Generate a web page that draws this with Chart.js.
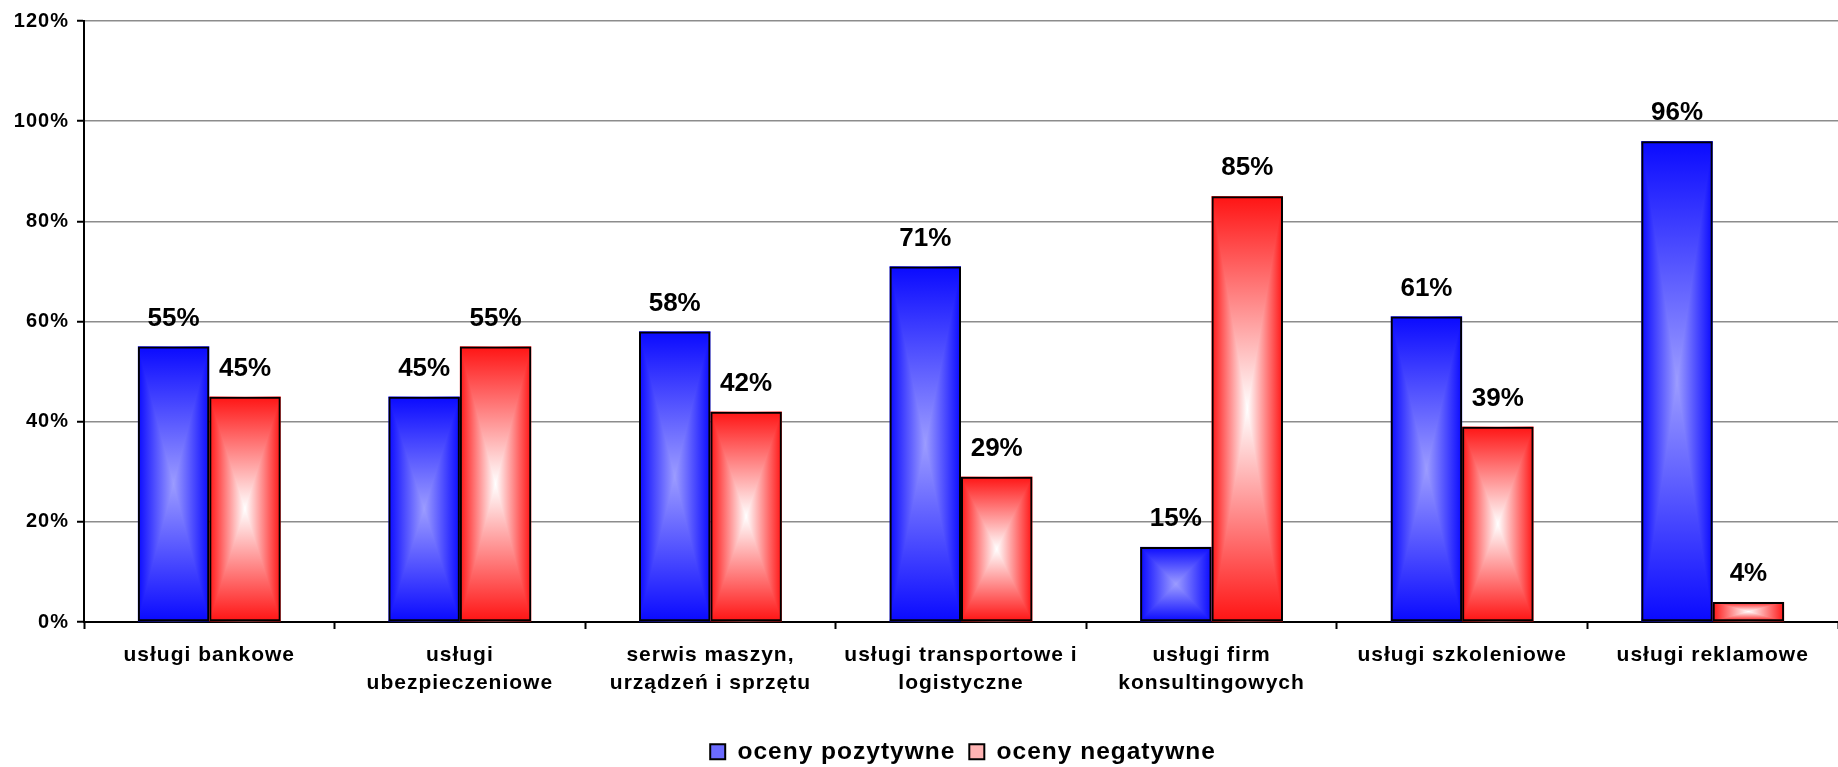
<!DOCTYPE html>
<html>
<head>
<meta charset="utf-8">
<script src="https://cdn.jsdelivr.net/npm/chart.js@4/dist/chart.umd.min.js"></script>
<style>
  html, body { margin: 0; padding: 0; background: #fff; }
  #wrap { width: 1838px; height: 767px; position: relative; }
</style>
</head>
<body>
<div id="wrap"><canvas id="chart"></canvas></div>
<script>
// dane z wykresu
const categories = [
  ['usługi bankowe'],
  ['usługi', 'ubezpieczeniowe'],
  ['serwis maszyn,', 'urządzeń i sprzętu'],
  ['usługi transportowe i', 'logistyczne'],
  ['usługi firm', 'konsultingowych'],
  ['usługi szkoleniowe'],
  ['usługi reklamowe']
];
const seriesNames = ['oceny pozytywne', 'oceny negatywne'];
const positive = [55, 45, 58, 71, 15, 61, 96];
const negative = [45, 55, 42, 29, 85, 39, 4];
const yTicks = [0, 20, 40, 60, 80, 100, 120];

// kolory gradientu: krawędź -> środek
const palette = [
  { edge: '#0a0aff', center: '#9c9cff', legend: '#6b6bff' },
  { edge: '#ff1414', center: '#ffffff', legend: '#ffb4b4' }
];

const FONT = "'Liberation Sans', Arial, sans-serif";

// odstępy między literami jak w Excelu
const spacingPlugin = {
  id: 'spacing',
  beforeLayout(chart) { chart.ctx.letterSpacing = '1px'; },
  beforeDraw(chart) { chart.ctx.letterSpacing = '1px'; }
};

// przesunięcie legendy, żeby stała tam gdzie w oryginale
const legendShift = {
  id: 'legendShift',
  afterLayout(chart) {
    const lg = chart.legend;
    if (!lg) return;
    lg.left += 44;
    lg.right += 44;
    lg.top += 7;
    lg.bottom += 7;
  }
};

// wypełnienie słupków gradientem "od środka" (prostokątnym)
const gradientBars = {
  id: 'gradientBars',
  beforeDatasetsDraw(chart) {
    const ctx = chart.ctx;
    chart.data.datasets.forEach((ds, di) => {
      const meta = chart.getDatasetMeta(di);
      const col = palette[di];
      meta.data.forEach(bar => {
        const p = bar.getProps(['x', 'y', 'base', 'width'], true);
        const l = p.x - p.width / 2, r = p.x + p.width / 2;
        const t = Math.min(p.y, p.base), b = Math.max(p.y, p.base);
        const cx = p.x, cy = (t + b) / 2;
        ctx.save();
        // poziomy gradient na całym prostokącie
        let g = ctx.createLinearGradient(l, 0, r, 0);
        g.addColorStop(0, col.edge);
        g.addColorStop(0.5, col.center);
        g.addColorStop(1, col.edge);
        ctx.fillStyle = g;
        ctx.fillRect(l, t, r - l, b - t);
        // górny trójkąt
        g = ctx.createLinearGradient(0, t, 0, cy);
        g.addColorStop(0, col.edge);
        g.addColorStop(1, col.center);
        ctx.fillStyle = g;
        ctx.beginPath();
        ctx.moveTo(l, t); ctx.lineTo(r, t); ctx.lineTo(cx, cy); ctx.closePath();
        ctx.fill();
        // dolny trójkąt
        g = ctx.createLinearGradient(0, b, 0, cy);
        g.addColorStop(0, col.edge);
        g.addColorStop(1, col.center);
        ctx.fillStyle = g;
        ctx.beginPath();
        ctx.moveTo(l, b); ctx.lineTo(r, b); ctx.lineTo(cx, cy); ctx.closePath();
        ctx.fill();
        ctx.restore();
      });
    });
  }
};

// etykiety wartości nad słupkami
const valueLabels = {
  id: 'valueLabels',
  afterDatasetsDraw(chart) {
    const ctx = chart.ctx;
    ctx.save();
    ctx.letterSpacing = '0px';
    ctx.font = 'bold 26px ' + FONT;
    ctx.fillStyle = '#000';
    ctx.textAlign = 'center';
    ctx.textBaseline = 'middle';
    chart.data.datasets.forEach((ds, di) => {
      chart.getDatasetMeta(di).data.forEach((bar, i) => {
        ctx.fillText(ds.data[i] + '%', bar.x, bar.y - 28);
      });
    });
    ctx.restore();
  }
};

const ctx = document.getElementById('chart');
new Chart(ctx, {
  type: 'bar',
  data: {
    labels: categories,
    datasets: [
      {
        label: seriesNames[0],
        data: positive,
        backgroundColor: 'rgba(0,0,0,0)',
        borderColor: '#000',
        borderWidth: 2,
        borderSkipped: false
      },
      {
        label: seriesNames[1],
        data: negative,
        backgroundColor: 'rgba(0,0,0,0)',
        borderColor: '#000',
        borderWidth: 2,
        borderSkipped: false
      }
    ]
  },
  options: {
    responsive: true,
    maintainAspectRatio: false,
    animation: false,
    devicePixelRatio: 1,
    layout: { padding: { top: 21, right: 0, left: 0, bottom: 0 } },
    datasets: {
      bar: { categoryPercentage: 0.57, barPercentage: 1.0 }
    },
    scales: {
      x: {
        grid: {
          display: true,
          drawOnChartArea: false,
          drawTicks: true,
          tickLength: 7,
          tickColor: '#000',
          tickWidth: 2,
          offset: true
        },
        border: { display: true, color: '#000', width: 2 },
        ticks: {
          color: '#000',
          padding: 12,
          maxRotation: 0,
          autoSkip: false,
          font: { family: FONT, size: 21, weight: 'bold', lineHeight: 1.33 }
        },
        afterFit(scale) { scale.height = 96.5; }
      },
      y: {
        min: 0,
        max: 120,
        afterBuildTicks(scale) { scale.ticks = yTicks.map(v => ({ value: v })); },
        grid: {
          color: '#8c8c8c',
          lineWidth: 1.5,
          tickLength: 7,
          tickColor: '#000',
          tickWidth: 2
        },
        border: { display: true, color: '#000', width: 2 },
        ticks: {
          color: '#000',
          padding: 8,
          callback: v => v + '%',
          font: { family: FONT, size: 20, weight: 'bold' }
        },
        afterFit(scale) { scale.width = 84; }
      }
    },
    plugins: {
      tooltip: { enabled: false },
      legend: {
        position: 'bottom',
        labels: {
          color: '#000',
          boxWidth: 15,
          boxHeight: 15,
          padding: 14,
          font: { family: FONT, size: 24.5, weight: 'bold' },
          generateLabels(chart) {
            return Chart.defaults.plugins.legend.labels.generateLabels(chart).map((item, i) => {
              item.fillStyle = palette[i].legend;
              item.strokeStyle = '#000';
              item.lineWidth = 2;
              return item;
            });
          }
        }
      }
    }
  },
  plugins: [spacingPlugin, legendShift, gradientBars, valueLabels]
});
</script>
</body>
</html>
